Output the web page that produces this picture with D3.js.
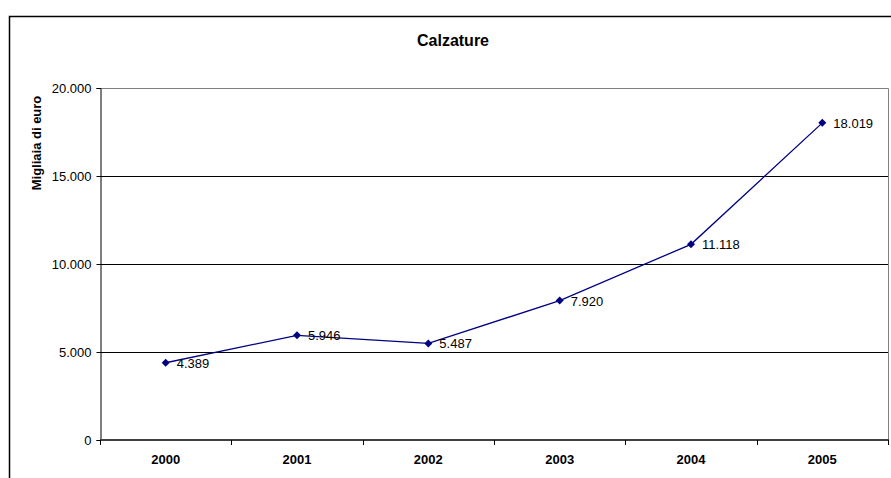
<!DOCTYPE html>
<html>
<head>
<meta charset="utf-8">
<script src="https://cdn.jsdelivr.net/npm/d3@7"></script>
<style>
  body { margin: 0; background: #fff; }
  svg { display: block; font-family: "Liberation Sans", Arial, sans-serif; }
</style>
</head>
<body>
<svg id="chart" width="891" height="478"></svg>
<script>
// Calzature: annual values in thousands of euro
const years = ["2000", "2001", "2002", "2003", "2004", "2005"];
const values = [4389, 5946, 5487, 7920, 11118, 18019];
const yTicks = [0, 5000, 10000, 15000, 20000];

const svg = d3.select("#chart");
const plot = { left: 100, top: 88, right: 888, bottom: 440 };

// Italian number format (dot as thousands separator)
const it = d3.formatLocale({ decimal: ",", thousands: ".", grouping: [3], currency: ["€", ""] });
const fmt = it.format(",d");

const x = d3.scaleBand().domain(years).range([plot.left, plot.right]);
const y = d3.scaleLinear().domain([0, 20000]).range([plot.bottom, plot.top]);

// Outer frame of the chart
svg.append("rect")
  .attr("x", 9.5).attr("y", 16.5)
  .attr("width", 920).attr("height", 500)
  .attr("fill", "#fff").attr("stroke", "#000").attr("stroke-width", 1.5);

// Plot area frame (top and right edges)
svg.append("path")
  .attr("d", `M${plot.left},${plot.top + 0.5}H${plot.right + 0.5}V${plot.bottom}`)
  .attr("fill", "none").attr("stroke", "#808080").attr("stroke-width", 1);

// Horizontal gridlines
svg.append("g").selectAll("line")
  .data(yTicks.filter(d => d > 0 && d < 20000))
  .join("line")
  .attr("x1", plot.left).attr("x2", plot.right)
  .attr("y1", d => Math.round(y(d)) + 0.5).attr("y2", d => Math.round(y(d)) + 0.5)
  .attr("stroke", "#000").attr("stroke-width", 1);

// Y axis
const yAxis = svg.append("g")
  .attr("transform", `translate(${plot.left + 0.5},0)`)
  .call(d3.axisLeft(y).tickValues(yTicks).tickFormat(fmt).tickSize(4).tickPadding(5));
yAxis.select(".domain").attr("stroke", "#000");
yAxis.selectAll(".tick line").attr("stroke", "#000");
yAxis.selectAll("text").attr("font-size", 13).attr("fill", "#000");

// X axis: ticks on category boundaries
const xAxisG = svg.append("g")
  .attr("transform", `translate(0,${plot.bottom})`);
xAxisG.append("line")
  .attr("x1", plot.left).attr("x2", plot.right + 1)
  .attr("stroke", "#404040").attr("stroke-width", 2);
const bounds = years.map(d => x(d)).concat([plot.right]);
xAxisG.selectAll(".xt").data(bounds).join("line")
  .attr("class", "xt")
  .attr("x1", d => Math.round(d) + 0.5).attr("x2", d => Math.round(d) + 0.5)
  .attr("y1", 0).attr("y2", 5)
  .attr("stroke", "#000");
xAxisG.selectAll(".xl").data(years).join("text")
  .attr("class", "xl")
  .attr("x", d => x(d) + x.bandwidth() / 2)
  .attr("y", 24)
  .attr("text-anchor", "middle")
  .attr("font-size", 13).attr("font-weight", "bold")
  .text(d => d);

// Series line
const cx = (d, i) => x(years[i]) + x.bandwidth() / 2;
const line = d3.line().x((d, i) => cx(d, i)).y(d => y(d));
svg.append("path")
  .datum(values)
  .attr("d", line)
  .attr("fill", "none").attr("stroke", "#000080").attr("stroke-width", 1.3);

// Diamond markers
svg.append("g").selectAll("path")
  .data(values)
  .join("path")
  .attr("transform", (d, i) => `translate(${cx(d, i)},${y(d)})`)
  .attr("d", "M0,-4L4,0L0,4L-4,0Z")
  .attr("fill", "#000080");

// Value labels
svg.append("g").selectAll("text")
  .data(values)
  .join("text")
  .attr("x", (d, i) => cx(d, i) + 11)
  .attr("y", d => y(d) + 5)
  .attr("font-size", 13).attr("fill", "#000")
  .text(d => fmt(d));

// Title
svg.append("text")
  .attr("x", 453).attr("y", 46)
  .attr("text-anchor", "middle")
  .attr("font-size", 16).attr("font-weight", "bold")
  .text("Calzature");

// Y axis title
svg.append("text")
  .attr("transform", "translate(41,143) rotate(-90)")
  .attr("text-anchor", "middle")
  .attr("font-size", 13).attr("font-weight", "bold")
  .text("Migliaia di euro");
</script>
</body>
</html>
